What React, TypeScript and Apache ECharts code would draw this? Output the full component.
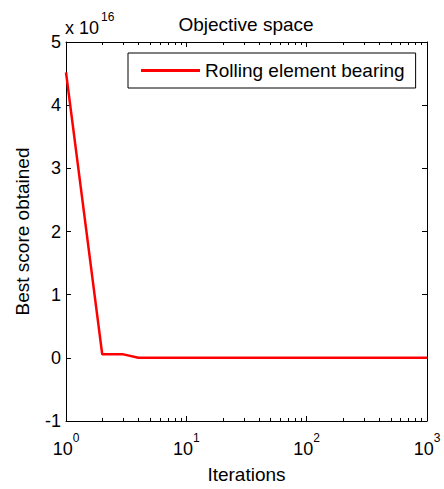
import React, { useEffect, useRef } from "react";
import * as echarts from "echarts";

// Convergence history of the best objective value
const iterations = [1, 2, 3, 4, 1000];
const bestScore = [4.52e16, 5.5e14, 5.5e14, 0, 0];
const seriesName = "Rolling element bearing";

// Axis ranges and tick labels
const xRange = [1, 1000];
const yTicks = [-1, 0, 1, 2, 3, 4, 5];
const yScale = 1e16;
const yExponentLabel = "16";
// minor (2..9 × 10^k) tick positions on the log axis
const minorTicks = [2, 3, 4, 5, 6, 7, 8, 9, 20, 30, 40, 50, 60, 70, 80, 90, 200, 300, 400, 500, 600, 700, 800, 900];

const FONT = "'Liberation Sans', Arial, Helvetica, sans-serif";

export default function App() {
  const ref = useRef<HTMLDivElement>(null);

  useEffect(() => {
    if (!ref.current) return;
    const chart = echarts.init(ref.current, null, { renderer: "svg" });
    const yMin = yTicks[0] * yScale;
    const yMax = yTicks[yTicks.length - 1] * yScale;

    const logLabel = (v: number) => `{b|10}{s|${Math.round(Math.log10(v))}}`;

    const boxAxisX = {
      type: "log" as const,
      logBase: 10,
      min: xRange[0],
      max: xRange[1],
      axisLine: { show: true, onZero: false, lineStyle: { color: "#000", width: 1 } },
      axisTick: { show: true, inside: true, length: 5, lineStyle: { color: "#000" } },
      splitLine: { show: false },
      minorTick: { show: false },
    };
    const boxAxisY = {
      type: "value" as const,
      min: yMin,
      max: yMax,
      interval: yScale,
      axisLine: { show: true, onZero: false, lineStyle: { color: "#000", width: 1 } },
      axisTick: { show: true, inside: true, length: 5, lineStyle: { color: "#000" } },
      splitLine: { show: false },
    };

    chart.setOption({
      animation: false,
      backgroundColor: "#fff",
      textStyle: { fontFamily: FONT, color: "#000" },
      grid: { left: 66, right: 17, top: 42, bottom: 67, containLabel: false },
      legend: {
        left: 128,
        top: 53,
        data: [seriesName],
        selectedMode: false,
        icon: "rect",
        itemWidth: 59,
        itemHeight: 3,
        itemGap: 0,
        padding: [8, 11, 8, 13],
        borderColor: "#000",
        borderWidth: 1,
        borderRadius: 0,
        backgroundColor: "#fff",
        textStyle: { fontSize: 19, color: "#000", fontFamily: FONT },
      },
      xAxis: [
        {
          ...boxAxisX,
          position: "bottom",
          name: "Iterations",
          nameLocation: "middle",
          nameGap: 44,
          nameTextStyle: { fontSize: 19, color: "#000", fontFamily: FONT },
          axisLabel: {
            margin: 11,
            color: "#000",
            formatter: logLabel,
            rich: {
              b: { fontSize: 18, fontFamily: FONT, color: "#000", lineHeight: 26, verticalAlign: "bottom" },
              s: { fontSize: 12, fontFamily: FONT, color: "#000", lineHeight: 12, verticalAlign: "top" },
            },
          },
        },
        { ...boxAxisX, position: "top", axisLabel: { show: false } },
      ],
      yAxis: [
        {
          ...boxAxisY,
          position: "left",
          name: "Best score obtained",
          nameLocation: "middle",
          nameRotate: 90,
          nameGap: 34,
          nameTextStyle: { fontSize: 19, color: "#000", fontFamily: FONT },
          axisLabel: {
            margin: 5,
            fontSize: 18,
            color: "#000",
            fontFamily: FONT,
            formatter: (v: number) => String(Math.round(v / yScale)),
          },
        },
        { ...boxAxisY, position: "right", axisLabel: { show: false } },
      ],
      graphic: [
        {
          type: "text",
          style: {
            text: "Objective space",
            x: 246,
            y: 24,
            align: "center",
            verticalAlign: "middle",
            fontSize: 19,
            fontFamily: FONT,
            fill: "#000",
          },
        },
        {
          type: "text",
          style: {
            text: `{b|x 10}{s|${yExponentLabel}}`,
            x: 65,
            y: 37,
            align: "left",
            verticalAlign: "bottom",
            rich: {
              b: { fontSize: 18, fontFamily: FONT, fill: "#000", lineHeight: 26, verticalAlign: "bottom" },
              s: { fontSize: 12, fontFamily: FONT, fill: "#000", lineHeight: 12, verticalAlign: "top", padding: [0, 0, 0, 2] },
            },
          },
        },
      ],
      series: [
        {
          name: seriesName,
          type: "line",
          xAxisIndex: 0,
          yAxisIndex: 0,
          data: iterations.map((x, i) => [x, bestScore[i]]),
          symbol: "none",
          showSymbol: false,
          lineStyle: { color: "#ff0000", width: 2.5 },
          itemStyle: { color: "#ff0000" },
          z: 3,
        },
        {
          name: "minor ticks",
          type: "custom",
          xAxisIndex: 0,
          yAxisIndex: 0,
          silent: true,
          clip: false,
          data: minorTicks.map((x) => [x, 0]),
          renderItem: (_params: any, api: any) => {
            const x = api.value(0);
            const b = api.coord([x, yMin]);
            const t = api.coord([x, yMax]);
            const px = Math.round(b[0]) + 0.5;
            const style = { stroke: "#000", lineWidth: 1 };
            return {
              type: "group",
              children: [
                { type: "line", shape: { x1: px, y1: b[1], x2: px, y2: b[1] - 3 }, style },
                { type: "line", shape: { x1: px, y1: t[1], x2: px, y2: t[1] + 3 }, style },
              ],
            };
          },
          z: 2,
        },
      ],
    });

    return () => chart.dispose();
  }, []);

  return (
    <div
      ref={ref}
      style={{ position: "fixed", left: 0, top: 0, width: 444, height: 489, background: "#fff" }}
    />
  );
}
